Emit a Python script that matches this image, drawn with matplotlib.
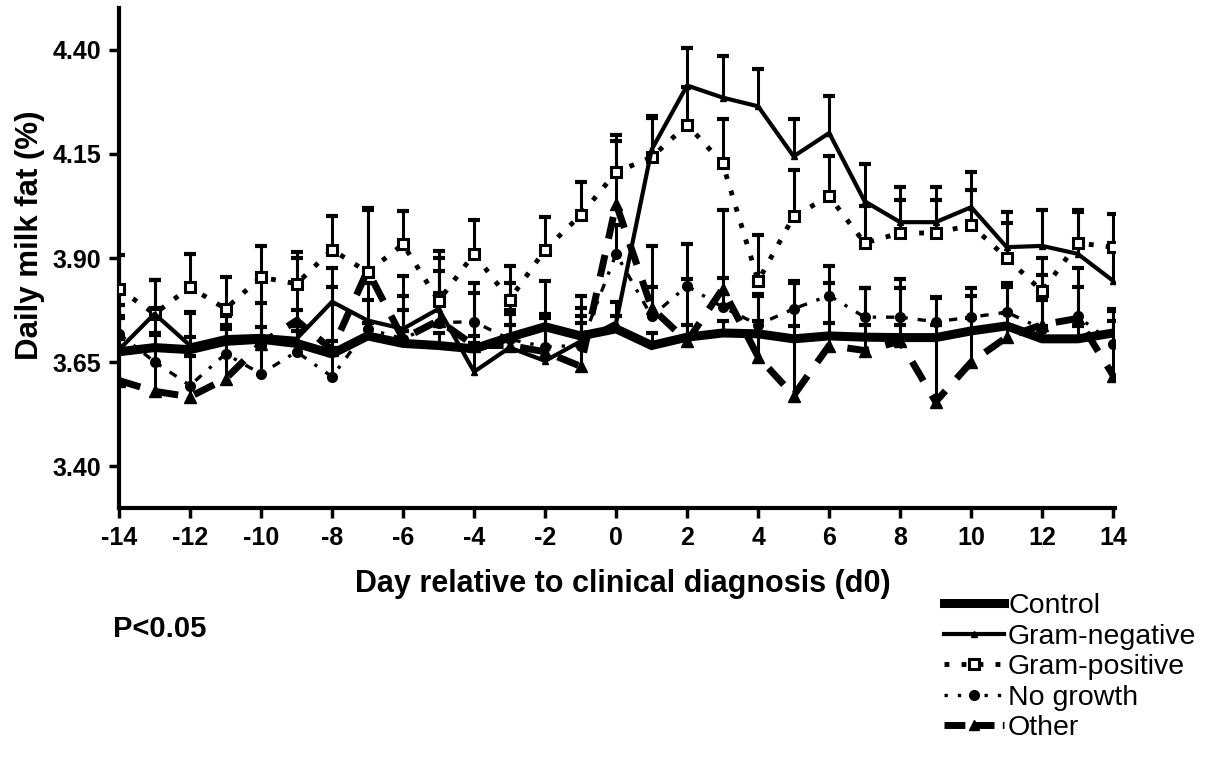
import matplotlib
matplotlib.use("Agg")
import matplotlib.pyplot as plt
from matplotlib.lines import Line2D
import numpy as np

plt.rcParams['font.family'] = ['Liberation Sans', 'DejaVu Sans']
plt.rcParams['font.weight'] = 'bold'

days = list(range(-14, 15))
xtick_days = list(range(-14, 15, 2))
ytick_vals = [3.40, 3.65, 3.90, 4.15, 4.40]

control = [3.675, 3.685, 3.68, 3.70, 3.705, 3.695, 3.67, 3.713, 3.695, 3.69,
           3.682, 3.71, 3.735, 3.713, 3.73, 3.69, 3.71, 3.72, 3.718, 3.706,
           3.713, 3.71, 3.709, 3.709, 3.725, 3.737, 3.706, 3.706, 3.72]
control_err = [0.03] * 29

gram_neg = [3.68, 3.766, 3.69, 3.71, 3.713, 3.706, 3.795, 3.75, 3.73, 3.778,
            3.627, 3.685, 3.653, 3.70, 3.745, 4.16, 4.314, 4.285, 4.264, 4.144,
            4.20, 4.036, 3.986, 3.986, 4.022, 3.926, 3.929, 3.91, 3.845]
gram_neg_err = [0.08, 0.08, 0.08, 0.07, 0.08, 0.07, 0.08, 0.09, 0.08, 0.09,
                0.07, 0.08, 0.08, 0.08, 0.05, 0.08, 0.09, 0.10, 0.09, 0.09,
                0.09, 0.09, 0.085, 0.085, 0.085, 0.085, 0.085, 0.10, 0.09]

gram_pos = [3.826, 3.766, 3.83, 3.778, 3.854, 3.838, 3.92, 3.866, 3.933, 3.797,
            3.91, 3.80, 3.92, 4.003, 4.106, 4.142, 4.22, 4.127, 3.845, 4.0,
            4.048, 3.936, 3.96, 3.96, 3.979, 3.90, 3.82, 3.936, 3.926]
gram_pos_err = [0.08, 0.08, 0.08, 0.076, 0.075, 0.076, 0.08, 0.15, 0.08, 0.12,
                0.08, 0.08, 0.078, 0.08, 0.09, 0.095, 0.09, 0.106, 0.11, 0.11,
                0.098, 0.09, 0.08, 0.08, 0.085, 0.085, 0.08, 0.08, 0.08]

no_growth = [3.718, 3.651, 3.594, 3.67, 3.622, 3.675, 3.615, 3.73, 3.706, 3.745,
             3.747, 3.705, 3.687, 3.69, 3.91, 3.76, 3.833, 3.782, 3.74, 3.778,
             3.81, 3.758, 3.758, 3.747, 3.758, 3.77, 3.73, 3.76, 3.694]
no_growth_err = [0.07, 0.07, 0.07, 0.07, 0.07, 0.07, 0.07, 0.07, 0.07, 0.07,
                 0.07, 0.07, 0.07, 0.07, 0.07, 0.07, 0.10, 0.07, 0.07, 0.067,
                 0.07, 0.07, 0.07, 0.06, 0.07, 0.07, 0.07, 0.07, 0.08]

other = [3.606, 3.58, 3.567, 3.61, 3.694, 3.75, 3.68, 3.87, 3.706, 3.75,
         3.69, 3.69, 3.675, 3.64, 4.03, 3.78, 3.70, 3.826, 3.663, 3.57,
         3.69, 3.678, 3.70, 3.555, 3.65, 3.71, 3.74, 3.755, 3.618]
other_err = [0.15, 0.2, 0.2, 0.15, 0.15, 0.15, 0.15, 0.15, 0.15, 0.15,
             0.15, 0.15, 0.17, 0.17, 0.15, 0.15, 0.15, 0.19, 0.15, 0.27,
             0.15, 0.15, 0.15, 0.25, 0.16, 0.12, 0.12, 0.12, 0.16]

fig = plt.figure(figsize=(12.1, 7.59), dpi=100)
ax = fig.add_axes([119 / 1210, 251 / 759, 996 / 1210, 500 / 759])


def up_errors(vals, errs, z):
    # one-sided (upper) error bars like the original software draws
    tops = np.array(vals) + np.array(errs)
    ax.vlines(days, vals, tops, colors='black', linewidth=2.2, zorder=z)
    ax.plot(days, tops, linestyle='none', marker='_', markersize=9,
            markeredgewidth=3, color='black', zorder=z)


up_errors(other, other_err, 2)
up_errors(no_growth, no_growth_err, 2)
up_errors(gram_pos, gram_pos_err, 2)
up_errors(gram_neg, gram_neg_err, 2)
up_errors(control, control_err, 2)

ax.plot(days, other, color='black', linewidth=5, linestyle=(0, (3.2, 2.4)),
        dash_capstyle='butt', marker='^', markersize=9, zorder=3)
ax.plot(days, no_growth, color='black', linewidth=2.4,
        linestyle=(0, (2.5, 3, 1, 3)), marker='o', markersize=7, zorder=4)
ax.plot(days, gram_pos, color='black', linewidth=3.5, linestyle=(0, (1, 2.5)),
        marker='s', markersize=7.5, markerfacecolor='white',
        markeredgewidth=2.2, zorder=5)
ax.plot(days, gram_neg, color='black', linewidth=3, marker='^', markersize=5,
        zorder=6)
ax.plot(days, control, color='black', linewidth=6.5, solid_joinstyle='miter',
        zorder=7)

ax.set_xlim(-14, 14.05)
ax.set_ylim(3.30, 4.50)
ax.set_xticks(xtick_days)
ax.set_xticklabels([str(d) for d in xtick_days])
ax.set_yticks(ytick_vals)
ax.set_yticklabels(['%.2f' % v for v in ytick_vals])

for side in ['top', 'right']:
    ax.spines[side].set_visible(False)
for side in ['left', 'bottom']:
    ax.spines[side].set_linewidth(3)
ax.tick_params(width=2.5, length=7, labelsize=18, pad=6)
for lab in ax.get_xticklabels() + ax.get_yticklabels():
    lab.set_fontweight('bold')

ax.set_xlabel('Day relative to clinical diagnosis (d0)', fontsize=22,
              fontweight='bold')
ax.xaxis.set_label_coords(0.506, -0.122)
ax.set_ylabel('Daily milk fat (%)', fontsize=22.5, fontweight='bold')
ax.yaxis.set_label_coords(-0.074, 0.545)

fig.text(113 / 1210, 122 / 759, 'P<0.05', fontsize=21, fontweight='bold',
         va='baseline', ha='left')

handles = [
    Line2D([], [], color='black', linewidth=6.5),
    Line2D([], [], color='black', linewidth=3, marker='^', markersize=5),
    Line2D([], [], color='black', linewidth=3.5, linestyle=(0, (1, 2.5)),
           marker='s', markersize=7.5, markerfacecolor='white',
           markeredgewidth=2.2),
    Line2D([], [], color='black', linewidth=2.4, linestyle=(0, (1, 3)),
           marker='o', markersize=7),
    Line2D([], [], color='black', linewidth=5, linestyle=(0, (3, 1.2)),
           marker='^', markersize=7),
]
labels = ['Control', 'Gram-negative', 'Gram-positive', 'No growth', 'Other']
fig.legend(handles, labels, loc='upper left',
           bbox_to_anchor=(944 / 1210, 1 - 593 / 759), frameon=False,
           prop={'size': 20.5, 'weight': 'normal'}, handlelength=2.1,
           handletextpad=0.15, labelspacing=0.16, borderaxespad=0,
           borderpad=0)

fig.savefig('out.png', dpi=100)
